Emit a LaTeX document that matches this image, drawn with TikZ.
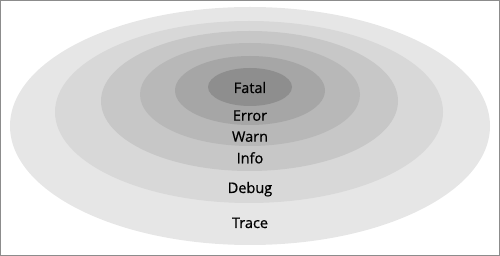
\documentclass[tikz,border=0pt]{standalone}
\usepackage{fontspec}
\setmainfont{Open Sans}
\newfontfamily\levelfont[FakeBold=0.7]{Open Sans}
\usetikzlibrary{shapes.geometric}

\definecolor{traceGray}{HTML}{E6E6E6}
\definecolor{debugGray}{HTML}{D8D8D8}
\definecolor{infoGray}{HTML}{C7C7C7}
\definecolor{warnGray}{HTML}{B8B8B8}
\definecolor{errorGray}{HTML}{A6A6A6}
\definecolor{fatalGray}{HTML}{8E8E8E}

\tikzset{
    ring/.style={ellipse, inner sep=0pt, draw=none},
    level/.style={anchor=base, inner sep=0pt, font=\levelfont\fontsize{14.5}{17}\selectfont, text=black},
    frame/.style={draw=black!45, line width=1pt}
}

\begin{document}
\begin{tikzpicture}[x=1pt,y=-1pt]
    \useasboundingbox (0,0) rectangle (500,256);
    % nested levels, widest first
    \node[ring, fill=traceGray, minimum width=480pt, minimum height=238pt] (trace) at (250,126) {};
    \node[ring, fill=debugGray, minimum width=388pt, minimum height=182pt] (debug) at (249,112) {};
    \node[ring, fill=infoGray,  minimum width=297pt, minimum height=140pt] (info)  at (249.5,101) {};
    \node[ring, fill=warnGray,  minimum width=220pt, minimum height=103pt] (warn)  at (250,94.5) {};
    \node[ring, fill=errorGray, minimum width=150pt, minimum height=69pt]  (error) at (250,90.5) {};
    \node[ring, fill=fatalGray, minimum width=84pt,  minimum height=38pt]  (fatal) at (250,87) {};
    % labels
    \node[level] (fatal-l) at (250,93)    {Fatal};
    \node[level] (error-l) at (250,120.7) {Error};
    \node[level] (warn-l)  at (250,141.7) {Warn};
    \node[level] (info-l)  at (250,163.3) {Info};
    \node[level] (debug-l) at (250,193)   {Debug};
    \node[level] (trace-l) at (250,228)   {Trace};
    \draw[frame] (0.5,0.5) rectangle (499.5,255.5);
\end{tikzpicture}
\end{document}
